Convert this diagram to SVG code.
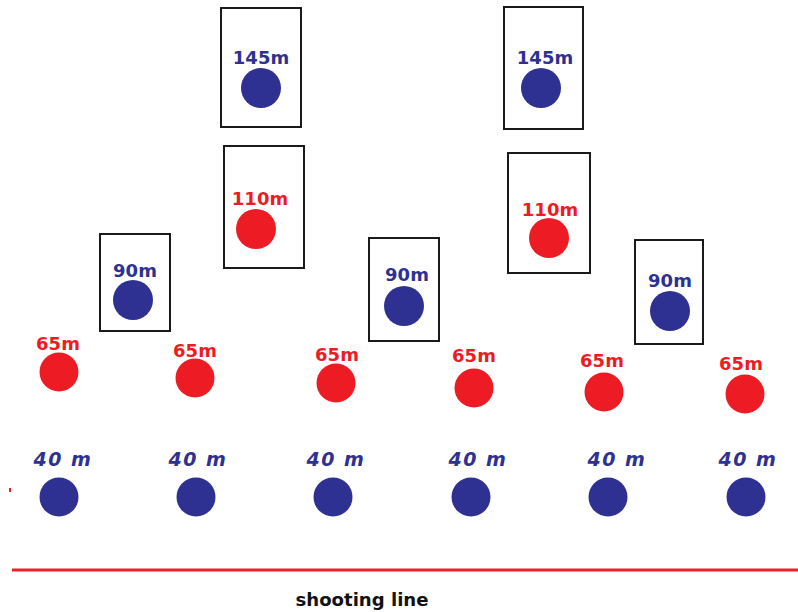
<svg xmlns="http://www.w3.org/2000/svg" width="798" height="612" viewBox="0 0 798 612">
<style>
.box{fill:#ffffff;stroke:#1a1a1a;stroke-width:2}
.b{fill:#2e3192}
.r{fill:#ed1c24}
.lb{font-family:"DejaVu Sans",Verdana,sans-serif;font-weight:bold;font-size:18px;text-anchor:middle;fill:#2e3192}
.lr{font-family:"DejaVu Sans",Verdana,sans-serif;font-weight:bold;font-size:18px;text-anchor:middle;fill:#ed1c24}
.l40{font-family:"DejaVu Sans",Verdana,sans-serif;font-weight:bold;font-style:italic;font-size:19px;text-anchor:middle;fill:#2e3192;letter-spacing:1.5px}
.sl{font-family:"Comic Sans MS","DejaVu Sans",sans-serif;font-weight:bold;font-size:18px;text-anchor:middle;fill:#111111}
</style>
<rect width="798" height="612" fill="#ffffff"/>

<g id="t145a"><rect class="box" x="221" y="8" width="80" height="119"/><text class="lb" x="261" y="64">145m</text><circle class="b" cx="261" cy="88" r="20"/></g>
<g id="t145b"><rect class="box" x="504" y="7" width="79" height="122"/><text class="lb" x="545" y="64">145m</text><circle class="b" cx="541" cy="88" r="20"/></g>
<g id="t110a"><rect class="box" x="224" y="146" width="80" height="122"/><text class="lr" x="260" y="205">110m</text><circle class="r" cx="256" cy="229" r="20"/></g>
<g id="t110b"><rect class="box" x="508" y="153" width="82" height="120"/><text class="lr" x="550" y="216">110m</text><circle class="r" cx="549" cy="238" r="20"/></g>
<g id="t90a"><rect class="box" x="100" y="234" width="70" height="97"/><text class="lb" x="135" y="277">90m</text><circle class="b" cx="133" cy="300" r="20"/></g>
<g id="t90b"><rect class="box" x="369" y="238" width="70" height="103"/><text class="lb" x="407" y="281">90m</text><circle class="b" cx="404" cy="306" r="20"/></g>
<g id="t90c"><rect class="box" x="635" y="240" width="68" height="104"/><text class="lb" x="670" y="287">90m</text><circle class="b" cx="670" cy="311" r="20"/></g>

<g id="t65a"><text class="lr" x="58" y="350">65m</text><circle class="r" cx="59" cy="372" r="19.5"/></g>
<g id="t65b"><text class="lr" x="195" y="357">65m</text><circle class="r" cx="195" cy="378" r="19.5"/></g>
<g id="t65c"><text class="lr" x="337" y="361">65m</text><circle class="r" cx="336" cy="383" r="19.5"/></g>
<g id="t65d"><text class="lr" x="474" y="362">65m</text><circle class="r" cx="474" cy="388" r="19.5"/></g>
<g id="t65e"><text class="lr" x="602" y="367">65m</text><circle class="r" cx="604" cy="392" r="19.5"/></g>
<g id="t65f"><text class="lr" x="741" y="370">65m</text><circle class="r" cx="745" cy="394" r="19.5"/></g>

<g id="t40a"><text class="l40" x="63" y="466">40 m</text><circle class="b" cx="59" cy="497" r="19.5"/></g>
<g id="t40b"><text class="l40" x="198" y="466">40 m</text><circle class="b" cx="196" cy="497" r="19.5"/></g>
<g id="t40c"><text class="l40" x="336" y="466">40 m</text><circle class="b" cx="333" cy="497" r="19.5"/></g>
<g id="t40d"><text class="l40" x="478" y="466">40 m</text><circle class="b" cx="471" cy="497" r="19.5"/></g>
<g id="t40e"><text class="l40" x="617" y="466">40 m</text><circle class="b" cx="608" cy="497" r="19.5"/></g>
<g id="t40f"><text class="l40" x="748" y="466">40 m</text><circle class="b" cx="746" cy="497" r="19.5"/></g>

<rect x="9" y="488" width="2" height="4" fill="#ed1c24"/>

<g id="shooting-line">
<line x1="12" y1="570" x2="798" y2="570" stroke="#e8232b" stroke-width="3"/>
<text class="sl" x="362" y="606" textLength="133" lengthAdjust="spacingAndGlyphs">shooting line</text>
</g>
</svg>
